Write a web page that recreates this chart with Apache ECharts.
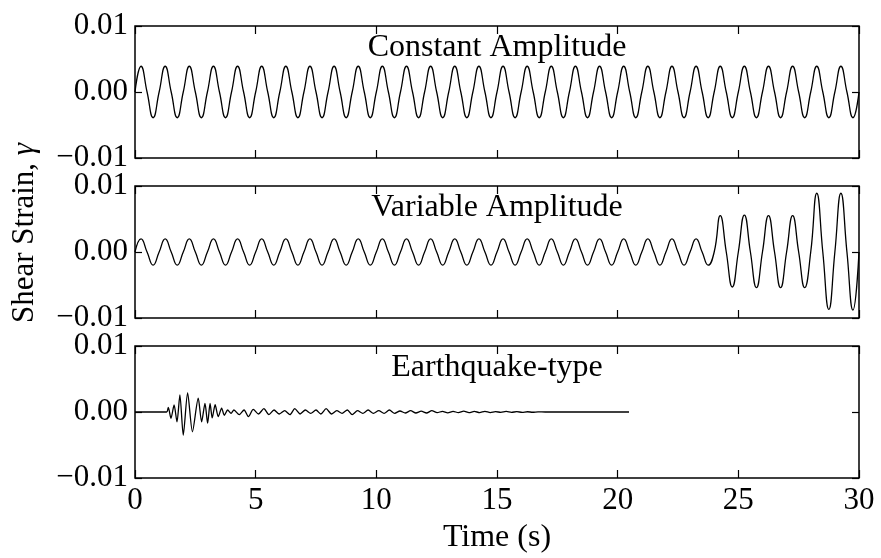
<!DOCTYPE html>
<html>
<head>
<meta charset="utf-8">
<script src="https://cdn.jsdelivr.net/npm/echarts@6/dist/echarts.min.js"></script>
<style>html,body{margin:0;padding:0;background:#fff}#c{width:881px;height:558px}</style>
</head>
<body>
<div id="c"></div>
<script>
// ---- data ----
const panelTitles = ['Constant Amplitude', 'Variable Amplitude', 'Earthquake-type'];
const xTicks = [0, 5, 10, 15, 20, 25, 30];
const yTicks = [-0.01, 0.00, 0.01];
const period = 1.0; // seconds per cycle

// peak / trough value of each 1-s cycle, constant amplitude
const constPeaks   = [0.0039,0.0039,0.0039,0.0039,0.0039,0.0039,0.0039,0.0039,0.0039,0.0039,
                      0.0039,0.0039,0.0039,0.0039,0.0039,0.0039,0.0039,0.0039,0.0039,0.0039,
                      0.0039,0.0039,0.0039,0.0039,0.0039,0.0039,0.0039,0.0039,0.0039,0.0039];
const constTroughs = [-0.0039,-0.0039,-0.0039,-0.0039,-0.0039,-0.0039,-0.0039,-0.0039,-0.0039,-0.0039,
                      -0.0039,-0.0039,-0.0039,-0.0039,-0.0039,-0.0039,-0.0039,-0.0039,-0.0039,-0.0039,
                      -0.0039,-0.0039,-0.0039,-0.0039,-0.0039,-0.0039,-0.0039,-0.0039,-0.0039,-0.0039];
// variable amplitude
const varPeaks   = [0.002,0.002,0.002,0.002,0.002,0.002,0.002,0.002,0.002,0.002,
                    0.002,0.002,0.002,0.002,0.002,0.002,0.002,0.002,0.002,0.002,
                    0.002,0.002,0.002,0.002,0.0055,0.0056,0.0055,0.0055,0.0089,0.0089];
const varTroughs = [-0.002,-0.002,-0.002,-0.002,-0.002,-0.002,-0.002,-0.002,-0.002,-0.002,
                    -0.002,-0.002,-0.002,-0.002,-0.002,-0.002,-0.002,-0.002,-0.002,-0.002,
                    -0.002,-0.002,-0.002,-0.002,-0.0053,-0.0054,-0.0054,-0.0054,-0.0087,-0.0088];
// earthquake-type record (time, strain) key points
const eqT = [0, 1.31, 1.38, 1.49, 1.62, 1.74, 1.86, 2.00, 2.18, 2.38, 2.62, 2.76, 2.90, 3.01, 3.11, 3.20,
             3.32, 3.45, 3.59, 3.70, 3.84, 3.98,
             4.10, 4.32, 4.52, 4.70, 4.90, 5.12, 5.34, 5.55, 5.76, 5.98, 6.20, 6.42, 6.62, 6.84, 7.06,
             7.28, 7.50, 7.70, 7.92, 8.14, 8.36, 8.58, 8.80, 9.00, 9.22, 9.44, 9.66, 9.88, 10.10, 10.32,
             10.54, 10.76, 10.98, 11.20, 11.42, 11.64, 11.86, 12.08, 12.30, 12.52, 12.74, 12.96, 13.18,
             13.40, 13.62, 13.84, 14.06, 14.28, 14.50, 14.72, 14.94, 15.16, 15.38, 15.60, 15.82, 16.04,
             16.26, 16.48, 16.70, 17.00, 20.47];
const eqV = [0, 0, 0.0007, -0.00096, 0.00106, -0.0015, 0.0026, -0.0035, 0.0029, -0.0030, 0.0021, -0.0015,
             0.0013, -0.0017, 0.0013, -0.0009, 0.0011, -0.0007, 0.0006, -0.0005, 0.0003, -0.0002,
             0.0003, -0.0004, 0.0003, -0.0007, 0.0004, -0.0003, 0.0005, -0.0004, 0.0003, -0.0003,
             0.0002, -0.0004, 0.0005, -0.0003, 0.0003, -0.0002, 0.0003, -0.0003, 0.0005, -0.0003,
             0.0002, -0.0002, 0.0003, -0.0004, 0.0002, -0.0002, 0.0003, -0.0002, 0.0002, -0.0002,
             0.0003, -0.0002, 0.00015, -0.00015, 0.0002, -0.00015, 0.00012, -0.00015, 0.0002, -0.0001,
             0.0001, -0.00012, 0.0001, -0.0001, 0.00012, -0.0001, 0.00008, -0.00008, 0.0001, -0.00008,
             0.00006, -0.00006, 0.00008, -0.00005, 0.00005, -0.00005, 0.00004, -0.00004, 0.00003, 0, 0];

// ---- build series point lists ----
function cyclePoints(peaks, troughs) {
  const pts = [];
  for (let k = 0; k < peaks.length; k++) {
    const t0 = k * period;
    pts.push([t0, 0], [t0 + period / 4, peaks[k]], [t0 + period / 2, 0], [t0 + 3 * period / 4, troughs[k]]);
  }
  pts.push([peaks.length * period, 0]);
  return pts;
}
const seriesData = [
  cyclePoints(constPeaks, constTroughs),
  cyclePoints(varPeaks, varTroughs),
  eqT.map((t, i) => [t, eqV[i]])
];

const FONT = 'Liberation Serif';
const gridTops = [26, 186, 346];
const grids = gridTops.map(t => ({
  left: 135, right: 22, top: t, height: 132,
  show: true, borderColor: '#000', borderWidth: 1.5, backgroundColor: 'transparent'
}));
const xAxes = [], yAxes = [], series = [], titles = [];
const tickStyle = { color: '#000', width: 1.2 };
for (let i = 0; i < 3; i++) {
  const base = {
    gridIndex: i, type: 'value', min: xTicks[0], max: xTicks[xTicks.length - 1], interval: 5,
    axisLine: { show: false, onZero: false }, splitLine: { show: false },
    axisTick: { show: true, inside: true, length: 8, lineStyle: tickStyle }
  };
  xAxes.push(Object.assign({}, base, {
    position: 'bottom',
    axisLabel: { show: i === 2, color: '#000', fontSize: 31, fontFamily: FONT, margin: 7 },
    name: i === 2 ? 'Time (s)' : '', nameLocation: 'middle', nameGap: 44,
    nameTextStyle: { color: '#000', fontSize: 32, fontFamily: FONT }
  }));
  xAxes.push(Object.assign({}, base, { position: 'top', axisLabel: { show: false } }));
  const ybase = {
    gridIndex: i, type: 'value', min: yTicks[0], max: yTicks[yTicks.length - 1], interval: 0.01,
    axisLine: { show: false, onZero: false }, splitLine: { show: false },
    axisTick: { show: true, inside: true, length: 7, lineStyle: tickStyle }
  };
  yAxes.push(Object.assign({}, ybase, {
    position: 'left',
    axisLabel: {
      color: '#000', fontSize: 31, fontFamily: FONT, margin: 7,
      formatter: v => (v < -1e-9 ? '\u2212' : '') + Math.abs(v).toFixed(2)
    }
  }));
  yAxes.push(Object.assign({}, ybase, { position: 'right', axisLabel: { show: false } }));
  series.push({
    type: 'line', xAxisIndex: 2 * i, yAxisIndex: 2 * i, data: seriesData[i],
    showSymbol: false, symbol: 'none', smooth: i === 2 ? 0.25 : 0.5,
    lineStyle: { color: '#000', width: 1.3 }, clip: true, silent: true
  });
  titles.push({
    text: panelTitles[i], left: 497, top: gridTops[i] + 6, textAlign: 'center', padding: 0,
    textStyle: { color: '#000', fontSize: 32, fontWeight: 'normal', fontFamily: FONT }
  });
}

const chart = echarts.init(document.getElementById('c'), null, { renderer: 'canvas' });
chart.setOption({
  animation: false,
  backgroundColor: '#fff',
  textStyle: { fontFamily: FONT },
  title: titles,
  grid: grids,
  xAxis: xAxes,
  yAxis: yAxes,
  series: series,
  graphic: [{
    type: 'text', x: 25, y: 233, rotation: Math.PI / 2,
    style: {
      text: 'Shear Strain, {g|γ}', fill: '#000', fontSize: 31, fontFamily: FONT,
      align: 'center', verticalAlign: 'middle',
      rich: { g: { fontSize: 31, fontFamily: FONT, fontStyle: 'italic', fill: '#000' } }
    }
  }]
});
</script>
</body>
</html>
